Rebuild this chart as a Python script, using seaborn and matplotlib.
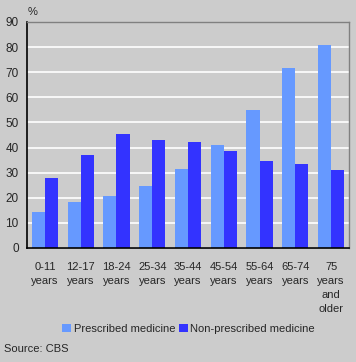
import pandas as pd
import seaborn as sns
import matplotlib.pyplot as plt

sns.set_style("white")
plt.rcParams['font.family'] = ['Liberation Sans', 'DejaVu Sans']

age_groups = ['0-11\nyears', '12-17\nyears', '18-24\nyears', '25-34\nyears',
              '35-44\nyears', '45-54\nyears', '55-64\nyears', '65-74\nyears',
              '75\nyears\nand\nolder']
prescribed = [14.3, 18.3, 20.7, 24.7, 31.5, 41.0, 55.0, 71.7, 80.8]
non_prescribed = [27.9, 37.0, 45.4, 43.0, 42.2, 38.6, 34.6, 33.5, 31.1]
series = ['Prescribed medicine', 'Non-prescribed medicine']
colors = ['#6699FF', '#3333FF']

df = pd.DataFrame({
    'age': age_groups * 2,
    'value': prescribed + non_prescribed,
    'type': [series[0]] * len(age_groups) + [series[1]] * len(age_groups),
})

fig = plt.figure(figsize=(3.56, 3.62), dpi=100, facecolor='#CCCCCC')
ax = fig.add_axes([27 / 356, 1 - 248 / 362, 322 / 356, 226 / 362])
ax.set_facecolor('#CCCCCC')

sns.barplot(data=df, x='age', y='value', hue='type', palette=colors,
            width=0.73, saturation=1, linewidth=0, edgecolor='none', ax=ax)

ax.set_ylim(0, 90)
ax.set_yticks(range(0, 91, 10))
ax.yaxis.grid(True, color='white', linewidth=1.2)
ax.set_axisbelow(True)
ax.set_xlabel('')
ax.set_ylabel('')
ax.tick_params(axis='y', length=4, width=1, color='black', labelsize=8.5, pad=2)
ax.tick_params(axis='x', length=0, labelsize=8, pad=10)
for lbl in ax.get_xticklabels():
    lbl.set_linespacing(1.5)
    lbl.set_verticalalignment('top')

for side in ['top', 'right']:
    ax.spines[side].set_color('#808080')
    ax.spines[side].set_linewidth(1)
for side in ['left', 'bottom']:
    ax.spines[side].set_color('black')
    ax.spines[side].set_linewidth(1.2)

ax.get_legend().remove()
handles, labels = ax.get_legend_handles_labels()
fig.legend(handles, labels, loc='center', bbox_to_anchor=(0.53, 1 - 329 / 362),
           ncol=2, frameon=False, fontsize=8, handlelength=0.8, handleheight=0.8,
           handletextpad=0.25, columnspacing=0.3, borderpad=0)

fig.text(33 / 356, 1 - 12 / 362, '%', fontsize=8, va='center', ha='center')
fig.text(4 / 356, 1 - 349 / 362, 'Source: CBS', fontsize=8, va='center', ha='left')

fig.savefig('out.png', dpi=100, facecolor='#CCCCCC')
